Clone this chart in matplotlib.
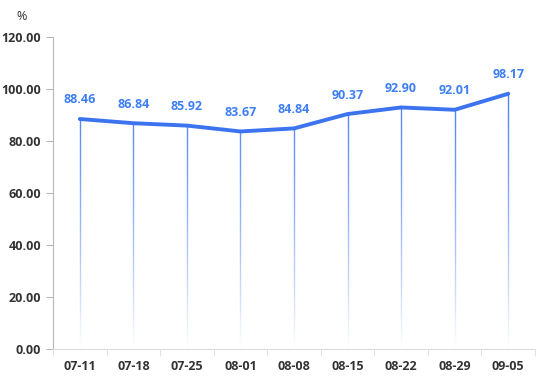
import matplotlib.pyplot as plt
import numpy as np

dates = ['07-11', '07-18', '07-25', '08-01', '08-08', '08-15', '08-22', '08-29', '09-05']
rates = [88.46, 86.84, 85.92, 83.67, 84.84, 90.37, 92.90, 92.01, 98.17]
yticks = [0, 20, 40, 60, 80, 100, 120]

blue = '#3c74f0'
plt.rcParams['font.family'] = ['Open Sans', 'DejaVu Sans']

fig = plt.figure(figsize=(5.37, 3.91), dpi=100)
ax = fig.add_axes([0.0987, 0.1074, 0.8976, 0.798])

x = np.arange(len(dates))

# drop lines, faded towards the bottom by a white gradient overlay
ax.vlines(x, 0, rates, color='#4d80f5', lw=1.0, zorder=1)
fade = np.zeros((256, 2, 4))
fade[..., :3] = 1.0
fade[:, :, 3] = np.clip(1 - np.linspace(0, 1, 256) / 0.85, 0, 1)[:, None] ** 1.3
ax.imshow(fade, extent=(-0.5, len(dates) - 0.5, 0, 120), origin='lower',
          aspect='auto', interpolation='bilinear', zorder=2)

ax.plot(x, rates, color=blue, lw=2.8, solid_capstyle='round', zorder=3)

for xi, yi in zip(x, rates):
    ax.annotate(f'{yi:.2f}', (xi, yi), xytext=(0, 9), textcoords='offset points',
                ha='center', va='bottom', color='#3d7ef5', fontsize=9,
                fontweight='bold')

ax.set_xlim(-0.5, len(dates) - 0.5)
ax.set_ylim(0, 120)
ax.set_yticks(yticks)
ax.set_yticklabels([f'{v:.2f}' for v in yticks])
ax.set_xticks(x)
ax.set_xticklabels(dates)
ax.set_xticks(np.arange(-0.5, len(dates)), minor=True)

for s in ['top', 'right']:
    ax.spines[s].set_visible(False)
ax.spines['left'].set_color('#b8b8b8')
ax.spines['bottom'].set_color('#dcdcdc')

ax.tick_params(axis='y', colors='#b8b8b8', length=5, labelcolor='#333333', labelsize=9)
ax.tick_params(axis='x', which='major', length=0, pad=8, labelcolor='#333333', labelsize=9)
ax.tick_params(axis='x', which='minor', length=5, colors='#dcdcdc')
for lbl in ax.get_xticklabels() + ax.get_yticklabels():
    lbl.set_fontweight('bold')

fig.text(22 / 537, 1 - 16 / 391, '%', ha='center', va='center', fontsize=9, color='#333333')

fig.savefig('out.png', dpi=100)
